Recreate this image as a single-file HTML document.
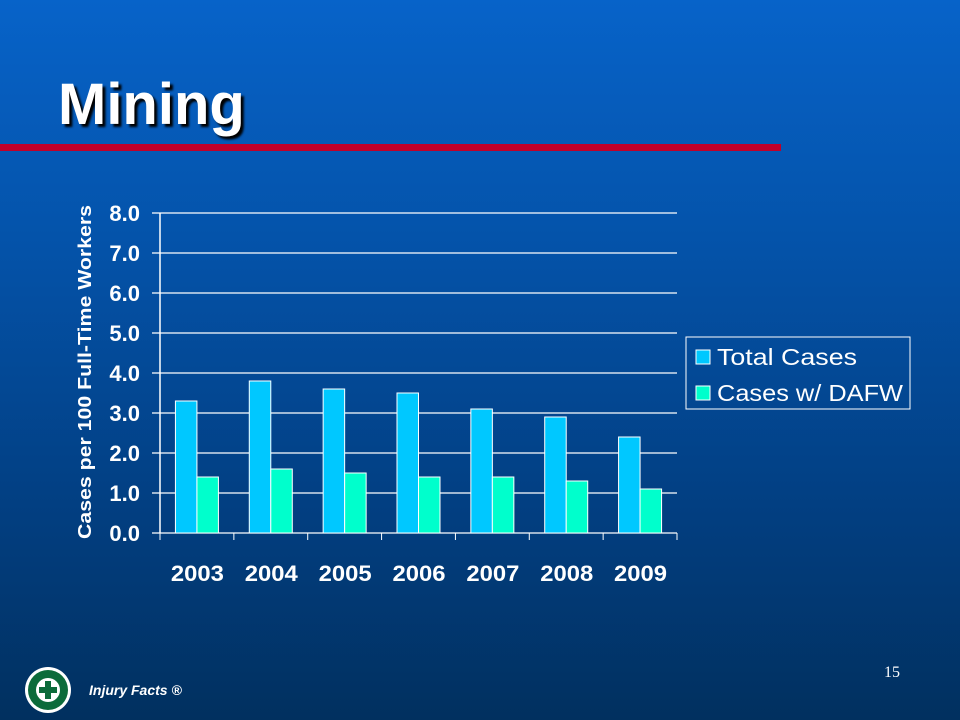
<!DOCTYPE html>
<html><head><meta charset="utf-8"><style>
html,body{margin:0;padding:0}
body{width:960px;height:720px;overflow:hidden;position:relative;font-family:"Liberation Sans",Arial,sans-serif;background:linear-gradient(to bottom,#0763c9 0%,#0452a8 35%,#023f82 70%,#01305f 100%)}
.t{position:absolute;color:#fff}
</style></head><body>
<div class="t" style="left:58px;top:71px;font-size:58px;font-weight:bold;text-shadow:3px 3px 2px #000">Mining</div>
<div style="position:absolute;left:0;top:144px;width:781px;height:7px;background:#c0002a"></div>
<svg id="chart" width="960" height="720" style="position:absolute;left:0;top:0"></svg>
<div class="t" style="left:884px;top:664px;font-size:16px;font-family:'Liberation Serif',serif">15</div>
<div class="t" style="left:89px;top:682px;font-size:14px;font-weight:bold;font-style:italic">Injury Facts ®</div>
<svg width="50" height="50" style="position:absolute;left:24px;top:666px">
<circle cx="24" cy="24" r="23" fill="#fff"/><circle cx="24" cy="24" r="20" fill="#0c6b3a"/><circle cx="24" cy="24" r="12" fill="#fff"/>
<path d="M21 15h6v6h6v6h-6v6h-6v-6h-6v-6h6z" fill="#0c6b3a"/></svg>
<script>
const categories=["2003","2004","2005","2006","2007","2008","2009"];
const totalCases=[3.3,3.8,3.6,3.5,3.1,2.9,2.4];
const dafwCases=[1.4,1.6,1.5,1.4,1.4,1.3,1.1];
const yTicks=[0,1,2,3,4,5,6,7,8];
const svg=document.getElementById('chart');
const NS='http://www.w3.org/2000/svg';
const x0=160,x1=677,yTop=213,yBot=533,yMax=8;
const y=v=>yBot-(v/yMax)*(yBot-yTop);
const cw=(x1-x0)/categories.length;
function mk(tag,attrs,txt){const e=document.createElementNS(NS,tag);for(const k in attrs)e.setAttribute(k,attrs[k]);if(txt!==undefined)e.textContent=txt;svg.appendChild(e);return e;}
yTicks.forEach(t=>{
 const g=mk('line',{x1:x0-8,x2:x1,y1:y(t),y2:y(t),stroke:'#fff','stroke-width':1.2});
 
 
 const l=mk('text',{x:140,y:y(t)+8,fill:'#fff','font-size':22,'font-weight':'bold','text-anchor':'end','font-family':'Liberation Sans'},t.toFixed(1));
 
 
});
const ax=mk('line',{x1:x0,x2:x0,y1:yTop,y2:yBot,stroke:'#fff','stroke-width':1.5});


for(let i=0;i<=categories.length;i++){const tk=mk('line',{x1:x0+i*cw,x2:x0+i*cw,y1:yBot,y2:yBot+7,stroke:'#fff'});
 
 }
const bw=21.5;
categories.forEach((c,i)=>{
 const cx=x0+cw*i+cw/2;
 const b1=mk('rect',{x:cx-bw,y:y(totalCases[i]),width:bw,height:yBot-y(totalCases[i]),fill:'#00c8ff',stroke:'#fff','stroke-width':1});
 
 
 const b2=mk('rect',{x:cx,y:y(dafwCases[i]),width:bw,height:yBot-y(dafwCases[i]),fill:'#00ffcc',stroke:'#fff','stroke-width':1});
 
 
 const l=mk('text',{x:cx-26,y:581,fill:'#fff','font-size':22,'font-weight':'bold','font-family':'Liberation Sans',textLength:53,lengthAdjust:'spacingAndGlyphs'},c);
 
 
});
const yt=mk('text',{x:0,y:0,fill:'#fff','font-size':18,'font-weight':'bold','text-anchor':'middle','font-family':'Liberation Sans',textLength:334,lengthAdjust:'spacingAndGlyphs',transform:'translate(91,372) rotate(-90)'},'Cases per 100 Full-Time Workers');


const lb=mk('rect',{x:686,y:337,width:224,height:72,fill:'none',stroke:'#fff','stroke-width':1});


[['Total Cases','#00c8ff',357,140],['Cases w/ DAFW','#00ffcc',393,186]].forEach(([n,col,yy,tl])=>{
 const s=mk('rect',{x:696,y:yy-7,width:14,height:14,fill:col,stroke:'#fff'});
 
 
 const t=mk('text',{x:717,y:yy+8,fill:'#fff','font-size':23,'font-family':'Liberation Sans',textLength:tl,lengthAdjust:'spacingAndGlyphs'},n);
 
 
});
</script>
</body></html>
